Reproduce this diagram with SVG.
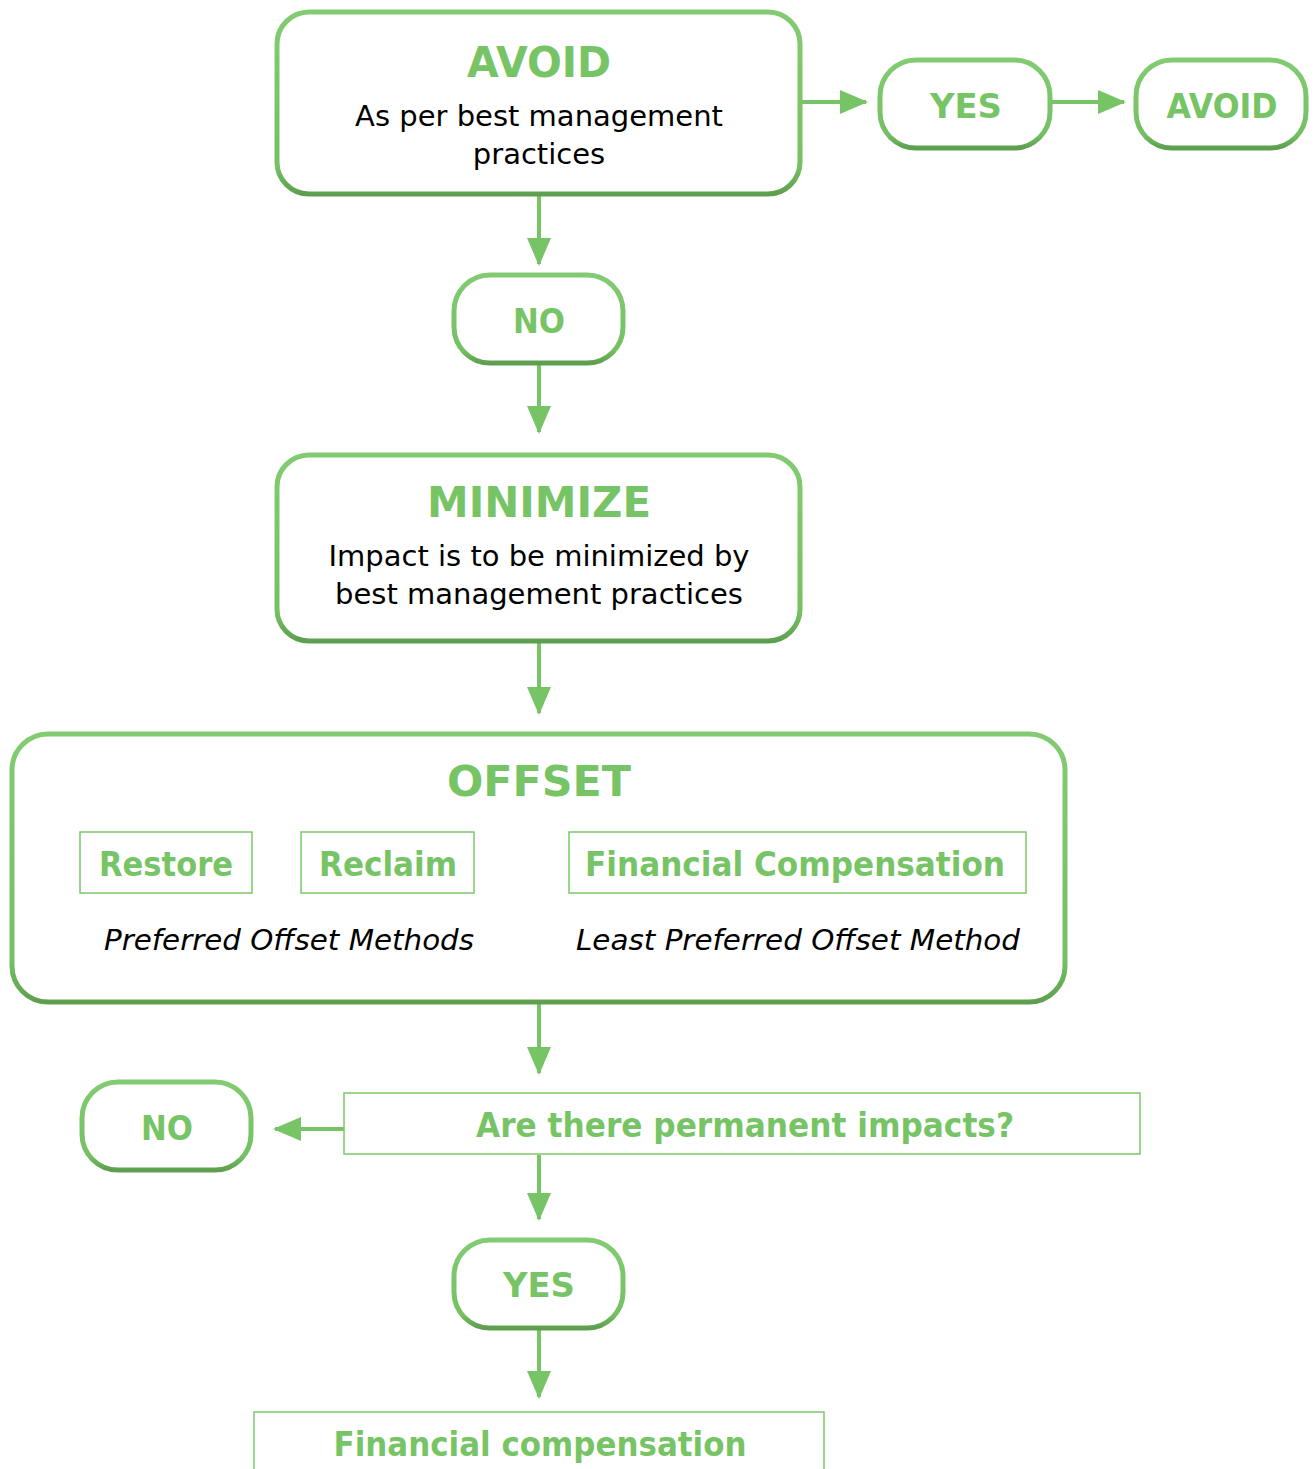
<svg xmlns="http://www.w3.org/2000/svg" width="1315" height="1469" viewBox="0 0 1315 1469">
<style>
.box{fill:#fff;stroke:url(#sg);stroke-width:5}
.thin{fill:#fff;stroke:#7cc76b;stroke-width:1.5}
.conn{stroke:#77c466;stroke-width:4;fill:none}
.h{font-family:"DejaVu Sans",sans-serif;font-weight:bold;fill:#77c466;text-anchor:middle}
.b{font-family:"DejaVu Sans",sans-serif;fill:#000;text-anchor:middle}
.i{font-family:"DejaVu Sans",sans-serif;font-style:italic;fill:#000;text-anchor:middle}
</style>
<defs>
<linearGradient id="sg" x1="0" y1="0" x2="0" y2="1">
<stop offset="0" stop-color="#82cb72"/>
<stop offset="0.85" stop-color="#74c063"/>
<stop offset="1" stop-color="#5e9f4f"/>
</linearGradient>
<marker id="ah" markerWidth="7" markerHeight="6" refX="6.5" refY="3" orient="auto" markerUnits="strokeWidth">
<path d="M0,0 L7,3 L0,6 Z" fill="#77c466"/>
</marker>
</defs>
<g id="connectors">
<line class="conn" x1="802" y1="102" x2="866" y2="102" marker-end="url(#ah)"/>
<line class="conn" x1="1052" y1="102" x2="1124" y2="102" marker-end="url(#ah)"/>
<line class="conn" x1="539" y1="196" x2="539" y2="264" marker-end="url(#ah)"/>
<line class="conn" x1="539" y1="365" x2="539" y2="432" marker-end="url(#ah)"/>
<line class="conn" x1="539" y1="643" x2="539" y2="713" marker-end="url(#ah)"/>
<line class="conn" x1="539" y1="1004" x2="539" y2="1073" marker-end="url(#ah)"/>
<line class="conn" x1="344" y1="1129" x2="275" y2="1129" marker-end="url(#ah)"/>
<line class="conn" x1="539" y1="1155" x2="539" y2="1219" marker-end="url(#ah)"/>
<line class="conn" x1="539" y1="1330" x2="539" y2="1397" marker-end="url(#ah)"/>
</g>
<g id="avoid-main">
<rect class="box" x="277" y="12" width="523" height="182" rx="32"/>
<text class="h" x="539" y="77" font-size="43" textLength="144" lengthAdjust="spacingAndGlyphs">AVOID</text>
<text class="b" x="539" y="126" font-size="29">As per best management</text>
<text class="b" x="539" y="164" font-size="29">practices</text>
</g>
<g id="yes-top">
<rect class="box" x="880" y="60" width="170" height="88" rx="36"/>
<text class="h" x="966" y="118" font-size="33" textLength="72" lengthAdjust="spacingAndGlyphs">YES</text>
</g>
<g id="avoid-result">
<rect class="box" x="1136" y="60" width="170" height="88" rx="36"/>
<text class="h" x="1222" y="118" font-size="33" textLength="111" lengthAdjust="spacingAndGlyphs">AVOID</text>
</g>
<g id="no-top">
<rect class="box" x="454" y="275" width="169" height="88" rx="36"/>
<text class="h" x="539" y="333" font-size="33" textLength="52" lengthAdjust="spacingAndGlyphs">NO</text>
</g>
<g id="minimize">
<rect class="box" x="277" y="455" width="523" height="186" rx="32"/>
<text class="h" x="539" y="517" font-size="43" textLength="224" lengthAdjust="spacingAndGlyphs">MINIMIZE</text>
<text class="b" x="539" y="566" font-size="29">Impact is to be minimized by</text>
<text class="b" x="539" y="604" font-size="29">best management practices</text>
</g>
<g id="offset">
<rect class="box" x="12" y="734" width="1053" height="268" rx="36"/>
<text class="h" x="539" y="796" font-size="43" textLength="184" lengthAdjust="spacingAndGlyphs">OFFSET</text>
<rect class="thin" x="80" y="832" width="172" height="61"/>
<text class="h" x="166" y="876" font-size="33" textLength="134" lengthAdjust="spacingAndGlyphs">Restore</text>
<rect class="thin" x="301" y="832" width="173" height="61"/>
<text class="h" x="388" y="876" font-size="33" textLength="138" lengthAdjust="spacingAndGlyphs">Reclaim</text>
<rect class="thin" x="569" y="832" width="457" height="61"/>
<text class="h" x="795" y="876" font-size="33" textLength="420" lengthAdjust="spacingAndGlyphs">Financial Compensation</text>
<text class="i" x="289" y="950" font-size="29" textLength="370" lengthAdjust="spacingAndGlyphs">Preferred Offset Methods</text>
<text class="i" x="798" y="950" font-size="29" textLength="444" lengthAdjust="spacingAndGlyphs">Least Preferred Offset Method</text>
</g>
<g id="question">
<rect class="thin" x="344" y="1093" width="796" height="61"/>
<text class="h" x="745" y="1137" font-size="33" textLength="538" lengthAdjust="spacingAndGlyphs">Are there permanent impacts?</text>
</g>
<g id="no-bottom">
<rect class="box" x="82" y="1082" width="169" height="88" rx="36"/>
<text class="h" x="167" y="1140" font-size="33" textLength="52" lengthAdjust="spacingAndGlyphs">NO</text>
</g>
<g id="yes-bottom">
<rect class="box" x="454" y="1240" width="169" height="88" rx="36"/>
<text class="h" x="539" y="1297" font-size="33" textLength="72" lengthAdjust="spacingAndGlyphs">YES</text>
</g>
<g id="financial">
<rect class="thin" x="254" y="1412" width="570" height="70"/>
<text class="h" x="540" y="1456" font-size="33" textLength="413" lengthAdjust="spacingAndGlyphs">Financial compensation</text>
</g>
</svg>
